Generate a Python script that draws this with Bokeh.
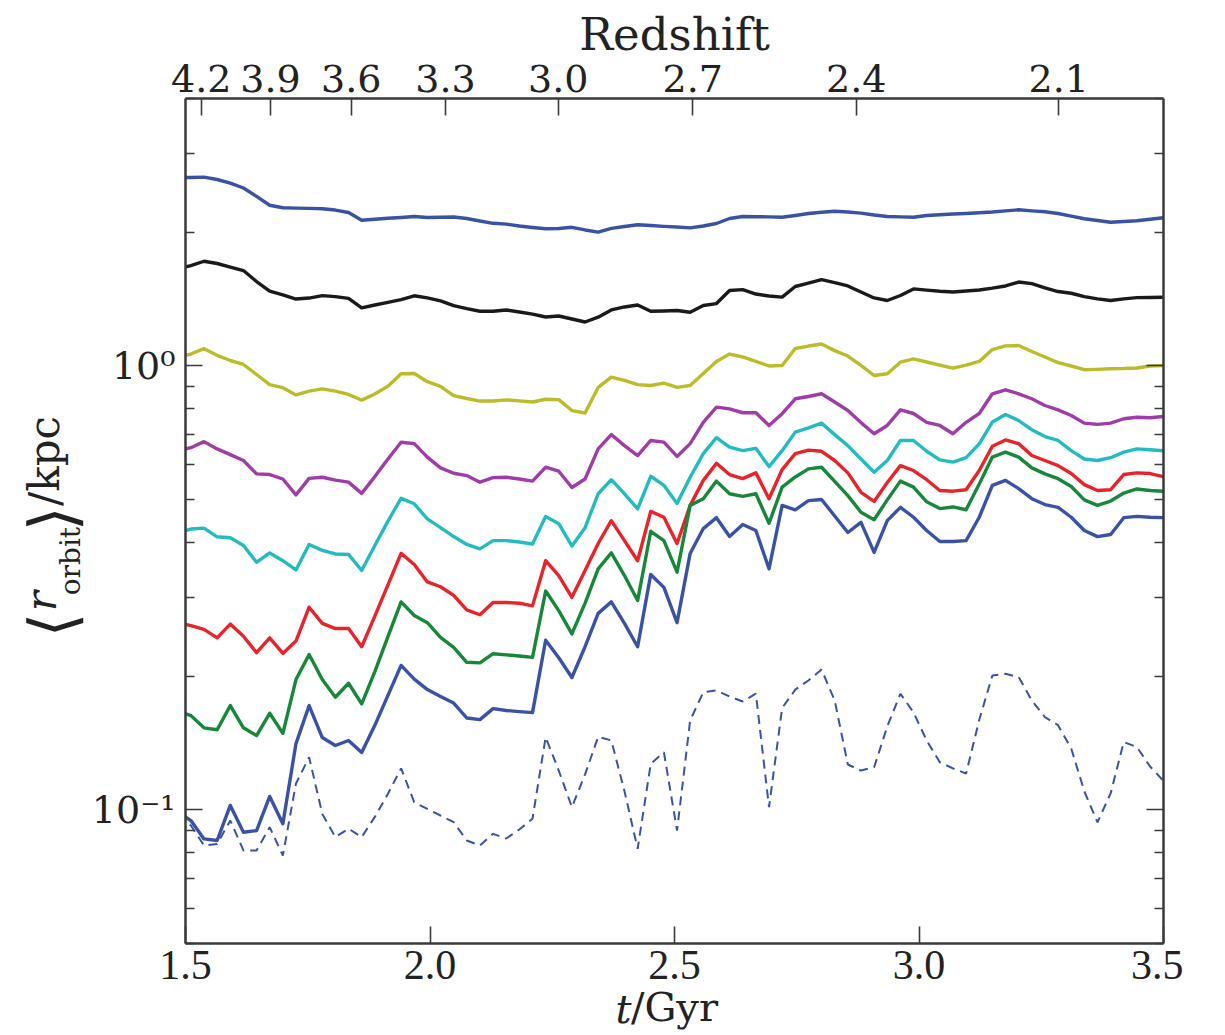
from bokeh.plotting import figure
from bokeh.models import LogAxis, LinearAxis, FixedTicker, Range1d
from bokeh.embed import file_html
from bokeh.resources import INLINE

# ---- data -------------------------------------------------------------
t_gyr = [1.4841, 1.5110, 1.5378, 1.5647, 1.5916, 1.6185, 1.6453, 1.6722, 1.6991, 1.7259,
         1.7528, 1.7797, 1.8065, 1.8334, 1.8603, 1.8872, 1.9140, 1.9409, 1.9678, 1.9946,
         2.0215, 2.0484, 2.0752, 2.1021, 2.1290, 2.1559, 2.1827, 2.2096, 2.2365, 2.2633,
         2.2902, 2.3171, 2.3439, 2.3708, 2.3977, 2.4246, 2.4514, 2.4783, 2.5052, 2.5320,
         2.5589, 2.5858, 2.6126, 2.6395, 2.6664, 2.6933, 2.7201, 2.7470, 2.7739, 2.8007,
         2.8276, 2.8545, 2.8813, 2.9082, 2.9351, 2.9620, 2.9888, 3.0157, 3.0426, 3.0694,
         3.0963, 3.1232, 3.1500, 3.1769, 3.2038, 3.2307, 3.2575, 3.2844, 3.3113, 3.3381,
         3.3650, 3.3919, 3.4187, 3.4456, 3.4725, 3.4994]

r_blue_top = [2.655, 2.655, 2.66, 2.628, 2.58, 2.515, 2.407, 2.30, 2.27, 2.265,
              2.262, 2.258, 2.243, 2.215, 2.127, 2.138, 2.149, 2.158, 2.169, 2.158,
              2.161, 2.164, 2.147, 2.119, 2.094, 2.085, 2.065, 2.049, 2.035, 2.038,
              2.051, 2.023, 2.0, 2.04, 2.059, 2.078, 2.07, 2.061, 2.054, 2.045,
              2.065, 2.092, 2.147, 2.169, 2.167, 2.165, 2.161, 2.181, 2.203, 2.218,
              2.229, 2.22, 2.207, 2.186, 2.169, 2.165, 2.161, 2.181, 2.189, 2.197,
              2.204, 2.212, 2.221, 2.234, 2.246, 2.234, 2.223, 2.203, 2.173, 2.144,
              2.125, 2.106, 2.113, 2.122, 2.139, 2.155]

r_black = [1.656, 1.682, 1.72, 1.70, 1.669, 1.639, 1.548, 1.474, 1.444, 1.414,
           1.421, 1.439, 1.432, 1.419, 1.351, 1.371, 1.39, 1.41, 1.438, 1.422,
           1.401, 1.367, 1.345, 1.327, 1.327, 1.336, 1.322, 1.307, 1.288, 1.295,
           1.275, 1.255, 1.287, 1.336, 1.357, 1.371, 1.327, 1.329, 1.332, 1.32,
           1.367, 1.381, 1.478, 1.485, 1.451, 1.436, 1.428, 1.509, 1.536, 1.564,
           1.54, 1.513, 1.466, 1.422, 1.403, 1.44, 1.49, 1.481, 1.472, 1.466,
           1.474, 1.482, 1.496, 1.513, 1.544, 1.532, 1.499, 1.47, 1.457, 1.432,
           1.415, 1.403, 1.415, 1.424, 1.425, 1.427]

r_yellow = [1.044, 1.063, 1.093, 1.056, 1.028, 1.007, 0.956, 0.907, 0.893, 0.86,
            0.877, 0.887, 0.877, 0.862, 0.837, 0.864, 0.9, 0.96, 0.961, 0.921,
            0.899, 0.857, 0.844, 0.833, 0.833, 0.838, 0.834, 0.829, 0.841, 0.839,
            0.793, 0.783, 0.894, 0.943, 0.927, 0.907, 0.903, 0.914, 0.894, 0.903,
            0.961, 1.023, 1.063, 1.047, 1.023, 0.999, 1.002, 1.094, 1.108, 1.12,
            1.082, 1.052, 1.002, 0.951, 0.96, 1.019, 1.037, 1.02, 1.004, 0.988,
            1.004, 1.023, 1.088, 1.109, 1.111, 1.077, 1.047, 1.017, 0.999, 0.98,
            0.982, 0.985, 0.986, 0.989, 0.999, 1.002]

r_purple = [0.644, 0.654, 0.675, 0.65, 0.631, 0.612, 0.571, 0.569, 0.556, 0.512,
            0.558, 0.561, 0.553, 0.547, 0.516, 0.563, 0.617, 0.673, 0.668, 0.623,
            0.589, 0.573, 0.566, 0.547, 0.56, 0.561, 0.556, 0.55, 0.591, 0.579,
            0.532, 0.556, 0.65, 0.70, 0.661, 0.628, 0.679, 0.673, 0.625, 0.668,
            0.746, 0.807, 0.8, 0.784, 0.784, 0.734, 0.78, 0.843, 0.853, 0.865,
            0.829, 0.793, 0.745, 0.703, 0.734, 0.796, 0.781, 0.746, 0.734, 0.703,
            0.746, 0.781, 0.865, 0.883, 0.865, 0.843, 0.814, 0.796, 0.773, 0.743,
            0.738, 0.743, 0.76, 0.766, 0.764, 0.769]

r_cyan = [0.421, 0.429, 0.431, 0.412, 0.41, 0.394, 0.361, 0.379, 0.364, 0.347,
          0.396, 0.384, 0.377, 0.376, 0.346, 0.394, 0.447, 0.503, 0.489, 0.452,
          0.432, 0.4125, 0.396, 0.387, 0.404, 0.404, 0.401, 0.397, 0.458, 0.441,
          0.393, 0.432, 0.515, 0.554, 0.515, 0.476, 0.564, 0.538, 0.49, 0.561,
          0.634, 0.689, 0.656, 0.644, 0.652, 0.593, 0.644, 0.709, 0.725, 0.743,
          0.70, 0.661, 0.617, 0.576, 0.612, 0.679, 0.679, 0.642, 0.614, 0.607,
          0.621, 0.667, 0.747, 0.777, 0.753, 0.718, 0.693, 0.679, 0.644, 0.617,
          0.612, 0.621, 0.639, 0.65, 0.647, 0.644]

r_red = [0.264, 0.26, 0.255, 0.244, 0.262, 0.246, 0.226, 0.244, 0.225, 0.24,
         0.286, 0.263, 0.256, 0.256, 0.233, 0.273, 0.321, 0.378, 0.357, 0.326,
         0.318, 0.304, 0.282, 0.275, 0.293, 0.293, 0.292, 0.288, 0.364, 0.337,
         0.301, 0.346, 0.398, 0.448, 0.404, 0.364, 0.47, 0.456, 0.398, 0.485,
         0.552, 0.603, 0.569, 0.557, 0.574, 0.502, 0.584, 0.634, 0.646, 0.642,
         0.612, 0.574, 0.519, 0.495, 0.546, 0.596, 0.581, 0.554, 0.524, 0.522,
         0.526, 0.581, 0.659, 0.681, 0.668, 0.628, 0.612, 0.596, 0.572, 0.54,
         0.524, 0.526, 0.569, 0.574, 0.572, 0.563]

r_green = [0.167, 0.163, 0.153, 0.1515, 0.1717, 0.153, 0.147, 0.165, 0.1487, 0.1965,
           0.2238, 0.1965, 0.1793, 0.1928, 0.1733, 0.2048, 0.2455, 0.294, 0.274, 0.264,
           0.2446, 0.2323, 0.2149, 0.2143, 0.2247, 0.2234, 0.222, 0.2205, 0.311, 0.281,
           0.249, 0.292, 0.349, 0.379, 0.337, 0.296, 0.424, 0.404, 0.343, 0.485,
           0.502, 0.55, 0.515, 0.508, 0.515, 0.442, 0.533, 0.562, 0.586, 0.591,
           0.549, 0.51, 0.468, 0.45, 0.499, 0.55, 0.533, 0.494, 0.477, 0.481,
           0.474, 0.542, 0.623, 0.639, 0.623, 0.589, 0.571, 0.557, 0.535, 0.499,
           0.485, 0.496, 0.517, 0.528, 0.524, 0.522]

r_blue_low = [0.099, 0.0946, 0.086, 0.0853, 0.1023, 0.089, 0.0898, 0.1072, 0.093, 0.141,
              0.1717, 0.1455, 0.1396, 0.1433, 0.1346, 0.155, 0.181, 0.2115, 0.197, 0.1866,
              0.18, 0.174, 0.161, 0.1597, 0.169, 0.1674, 0.1664, 0.1656, 0.241, 0.22,
              0.1986, 0.233, 0.277, 0.294, 0.263, 0.233, 0.339, 0.317, 0.264, 0.378,
              0.43, 0.455, 0.4125, 0.439, 0.4256, 0.349, 0.485, 0.474, 0.497, 0.50,
              0.459, 0.4213, 0.444, 0.38, 0.448, 0.48, 0.456, 0.4256, 0.402, 0.402,
              0.404, 0.456, 0.538, 0.552, 0.529, 0.502, 0.487, 0.48, 0.456, 0.4256,
              0.4125, 0.417, 0.455, 0.458, 0.456, 0.455]

r_blue_dash = [0.0971, 0.0922, 0.0831, 0.0838, 0.0946, 0.081, 0.081, 0.0914, 0.0789, 0.1146,
               0.1314, 0.0979, 0.0868, 0.0907, 0.0868, 0.0964, 0.1087, 0.124, 0.104, 0.1005,
               0.0971, 0.0938, 0.0853, 0.0831, 0.0883, 0.0862, 0.0903, 0.0955, 0.1457, 0.1226,
               0.1014, 0.1202, 0.1461, 0.1433, 0.1102, 0.0817, 0.1269, 0.1348, 0.0898, 0.159,
               0.184, 0.1857, 0.18, 0.1754, 0.1826, 0.1014, 0.1695, 0.1865, 0.1956, 0.207,
               0.1763, 0.1265, 0.1226, 0.1247, 0.1541, 0.1826, 0.1657, 0.1433, 0.128, 0.124,
               0.1207, 0.1595, 0.2006, 0.2025, 0.1991, 0.1763, 0.1617, 0.1551, 0.1374, 0.1101,
               0.0937, 0.1089, 0.1421, 0.1385, 0.1252, 0.1164]

x_ticks = [1.5, 2.0, 2.5, 3.0, 3.5]
x_tick_labels = ["1.5", "2.0", "2.5", "3.0", "3.5"]
y_ticks = [0.1, 1.0]
y_tick_labels = ["10\u207b\u00b9", "10\u2070"]
y_minor = [0.05, 0.06, 0.07, 0.08, 0.09, 0.2, 0.3, 0.4, 0.5, 0.6, 0.7, 0.8, 0.9, 2.0, 3.0, 4.0]
z_tick_t = [1.5321, 1.6738, 1.8389, 2.0317, 2.2622, 2.5374, 2.8716, 3.2859]
z_tick_labels = ["4.2", "3.9", "3.6", "3.3", "3.0", "2.7", "2.4", "2.1"]

NB = "\u00a0"  # non-breaking space, used to offset label pieces

# ---- figure -----------------------------------------------------------
AX = "#3a3a3a"
TXT = "#222222"
p = figure(width=1183, height=1035,
           x_range=Range1d(1.5, 3.5), y_range=Range1d(0.05, 4.0),
           y_axis_type="log", output_backend="svg", toolbar_location=None,
           min_border_left=185, min_border_right=20, min_border_top=98, min_border_bottom=92)
p.grid.visible = False
p.outline_line_color = None
p.background_fill_color = "white"


def style_axis(ax, major_in=17, minor_in=9):
    ax.axis_line_color = AX
    ax.axis_line_width = 2.5
    ax.major_tick_line_color = AX
    ax.major_tick_line_width = 1.6
    ax.minor_tick_line_color = AX
    ax.minor_tick_line_width = 1.4
    ax.major_tick_in = major_in
    ax.major_tick_out = 0
    ax.minor_tick_in = minor_in
    ax.minor_tick_out = 0
    ax.major_label_text_color = TXT


def text_axis(cls, text, font, size, style, standoff):
    """An axis without ticks or line that only carries a (piece of a) title."""
    ax = cls(ticker=FixedTicker(ticks=[], minor_ticks=[]))
    ax.axis_line_color = None
    ax.major_tick_line_color = None
    ax.minor_tick_line_color = None
    ax.major_tick_in = 0
    ax.major_tick_out = 0
    ax.minor_tick_in = 0
    ax.minor_tick_out = 0
    ax.major_label_standoff = 0
    ax.axis_label = text
    ax.axis_label_text_font = font
    ax.axis_label_text_font_size = size
    ax.axis_label_text_font_style = style
    ax.axis_label_text_color = TXT
    ax.axis_label_standoff = standoff
    return ax


# bottom axis + "/Gyr"
xb = p.xaxis[0]
xb.ticker = FixedTicker(ticks=x_ticks)
xb.major_label_overrides = dict(zip(x_ticks, x_tick_labels))
style_axis(xb)
xb.minor_tick_line_color = None
xb.major_label_text_font = "Liberation Serif"
xb.major_label_text_font_size = "42px"
xb.major_label_standoff = 7
xb.axis_label = "/Gyr"
xb.axis_label_text_font = "DejaVu Serif"
xb.axis_label_text_font_size = "40px"
xb.axis_label_text_font_style = "normal"
xb.axis_label_text_color = TXT
xb.axis_label_standoff = 2
# italic "t" placed on the same line, left of "/Gyr"
p.add_layout(text_axis(LinearAxis, "t" + NB * 8, "DejaVu Serif", "40px", "italic", -47), "below")

# left axis
yl = p.yaxis[0]
yl.ticker = FixedTicker(ticks=y_ticks, minor_ticks=y_minor)
yl.major_label_overrides = dict(zip(y_ticks, y_tick_labels))
style_axis(yl)
yl.major_label_text_font = "DejaVu Serif"
yl.major_label_text_font_size = "38px"
yl.major_label_standoff = 10
# y title: <r_orbit>/kpc built from pieces sharing one baseline
p.add_layout(text_axis(LinearAxis, "orbit" + NB * 9, "DejaVu Serif", "28px", "normal", 2), "left")
p.add_layout(text_axis(LinearAxis, NB * 9 + "/kpc", "DejaVu Serif", "42px", "normal", -18), "left")
p.add_layout(text_axis(LinearAxis, "r" + NB * 12, "DejaVu Serif", "42px", "italic", -49), "left")
p.add_layout(text_axis(LinearAxis, "\u27e8" + NB * 4 + "\u27e9" + NB * 5, "DejaVu Serif", "64px", "normal", -76), "left")

# right axis (ticks only, labels invisible)
yr = LogAxis(ticker=FixedTicker(ticks=y_ticks, minor_ticks=y_minor))
style_axis(yr)
yr.major_label_text_font_size = "2px"
yr.major_label_text_color = None
yr.major_label_standoff = 0
p.add_layout(yr, "right")

# top axis: redshift
xt = LinearAxis(ticker=FixedTicker(ticks=z_tick_t))
xt.major_label_overrides = dict(zip(z_tick_t, z_tick_labels))
style_axis(xt)
xt.minor_tick_line_color = None
xt.major_label_text_font = "DejaVu Serif"
xt.major_label_text_font_size = "38px"
xt.major_label_standoff = 7
xt.axis_label = "Redshift"
xt.axis_label_text_font = "DejaVu Serif"
xt.axis_label_text_font_size = "45px"
xt.axis_label_text_font_style = "normal"
xt.axis_label_text_color = TXT
xt.axis_label_standoff = 1
p.add_layout(xt, "above")

# ---- lines ------------------------------------------------------------
series = [
    (r_blue_top, "#3a52a6"),
    (r_black, "#1a1a1a"),
    (r_yellow, "#bcbc2a"),
    (r_purple, "#a03ca8"),
    (r_cyan, "#22bcc0"),
    (r_red, "#e8232a"),
    (r_green, "#17873a"),
    (r_blue_low, "#3a52a6"),
]
for vals, col in series:
    p.line(t_gyr, vals, line_color=col, line_width=3.4, line_join="round")
p.line(t_gyr, r_blue_dash, line_color="#3a52a6", line_width=2, line_dash="9 6")

open("out.html", "w").write(file_html(p, INLINE))
